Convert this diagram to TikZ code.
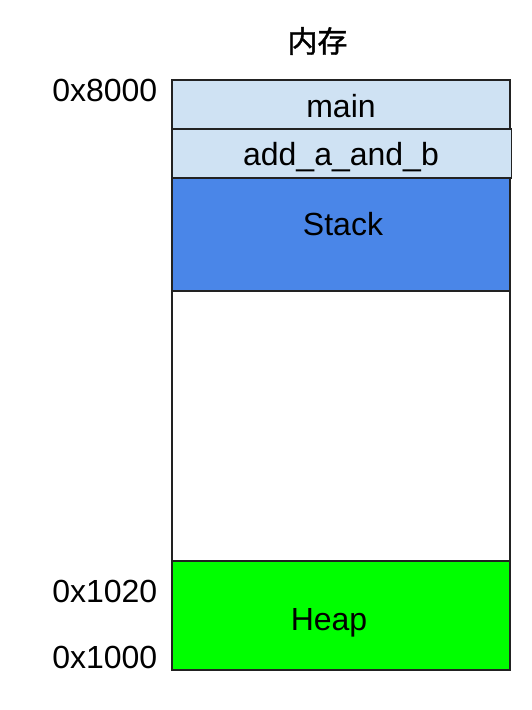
\documentclass[tikz,border=0pt]{standalone}
\usepackage{fontspec}
\setmainfont{Liberation Sans}
\newfontfamily\cjk[FakeBold=1.2]{Noto Sans CJK SC}
\definecolor{framelight}{HTML}{CFE2F3}
\definecolor{stackblue}{HTML}{4A86E8}
\definecolor{heapgreen}{HTML}{00FF00}
\definecolor{edge}{HTML}{222222}
\begin{document}
\begin{tikzpicture}[x=1pt,y=-1pt,
  seg/.style={draw=edge,line width=1.3pt},
  lbl/.style={font=\fontsize{32}{36}\selectfont,inner sep=0pt,anchor=base},
  addr/.style={font=\fontsize{32}{36}\selectfont,inner sep=0pt,anchor=base east}]
  \useasboundingbox (0,0) rectangle (531,710);
  % memory segments, top to bottom
  \path[seg,fill=white] (172,291) rectangle (510,561);
  \path[seg,fill=stackblue] (172,178) rectangle (510,291);
  \path[seg,fill=heapgreen] (172,561) rectangle (510,670);
  \path[seg,fill=framelight] (172,80) rectangle (510,129);
  \path[seg,fill=framelight] (172,129) rectangle (511.5,178);
  % segment labels
  \node[font=\cjk\fontsize{30}{34}\selectfont,inner sep=0pt] (title) at (317.5,41) {内存};
  \node[lbl] (main) at (341,117.5) {main};
  \node[lbl] (add) at (341,165.5) {add\_a\_and\_b};
  \node[lbl] (stack) at (343,235) {Stack};
  \node[lbl] (heap) at (329,630) {Heap};
  % addresses
  \node[addr] (a8000) at (157.5,101.5) {0x8000};
  \node[addr] (a1020) at (157.5,602) {0x1020};
  \node[addr] (a1000) at (157.5,668) {0x1000};
\end{tikzpicture}
\end{document}
